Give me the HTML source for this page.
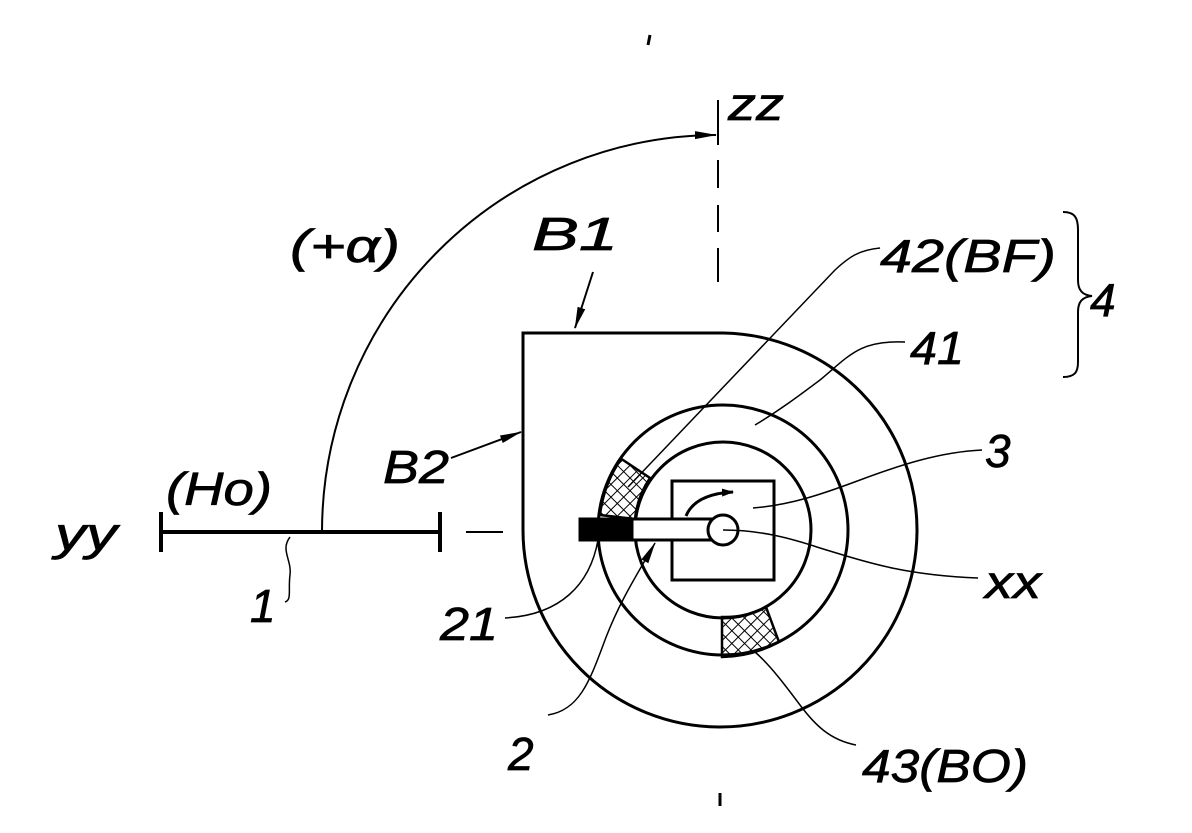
<!DOCTYPE html>
<html><head><meta charset="utf-8"><style>
html,body{margin:0;padding:0;background:#fff}
svg{display:block}
text{font-family:"Liberation Sans",sans-serif;font-style:italic;fill:#000;stroke:#000;stroke-width:0.7}
</style></head><body>
<svg width="1192" height="833" viewBox="0 0 1192 833" xmlns="http://www.w3.org/2000/svg">
<defs>
<pattern id="h" width="9" height="9" patternUnits="userSpaceOnUse" patternTransform="rotate(45)">
<path d="M0 0H9M0 0V9" stroke="#000" stroke-width="2"/>
</pattern>
<marker id="a" markerWidth="12" markerHeight="8" refX="11" refY="4" orient="auto" markerUnits="userSpaceOnUse">
<path d="M0,0 L12,4 L0,8 Z" fill="#000"/></marker>
<marker id="b" markerWidth="22" markerHeight="10" refX="21" refY="5" orient="auto" markerUnits="userSpaceOnUse">
<path d="M0,1 L22,5 L0,9 Z" fill="#000"/></marker>
</defs>
<g fill="none" stroke="#000">
<path d="M161 532H440" stroke-width="4"/>
<path d="M161 512V552M440 512V552" stroke-width="4"/>
<path d="M466 532H503" stroke-width="2"/>
<path d="M718 100V145M718 160V188M718 205V232M718 248V282" stroke-width="2"/>
<path d="M650 35L648 45" stroke-width="3"/>
<path d="M720 793V806" stroke-width="3"/>
<path d="M322 532A396 397 0 0 1 716 135" stroke-width="2" marker-end="url(#b)"/>
<path d="M523 530V333H723A197 197 0 1 1 523 530" stroke-width="3"/>
<circle cx="723" cy="530" r="125" stroke-width="3"/>
<circle cx="723" cy="530" r="88" stroke-width="3"/>
<path d="M620 458 L621 459 A125 125 0 0 0 600 515 L635 519 A88 88 0 0 1 650 478 Z" fill="url(#h)" stroke-width="2.5"/>
<path d="M722 617 L722 657 A125 125 0 0 0 779 642 L766 607 A88 88 0 0 1 722 617 Z" fill="url(#h)" stroke-width="2.5"/>
<rect x="672" y="481" width="102" height="99" stroke-width="3" fill="#fff"/>
<rect x="580" y="519" width="143" height="21" fill="#fff" stroke-width="3"/>
<rect x="580" y="519" width="52" height="21" fill="#000" stroke-width="3"/>
<circle cx="723" cy="530" r="15" fill="#fff" stroke-width="3"/>
<path d="M686 516 Q695 494 733 492" stroke-width="3" marker-end="url(#a)"/>
<path d="M593 272L575 328" stroke-width="2" marker-end="url(#b)"/>
<path d="M451 458L521 432" stroke-width="2" marker-end="url(#b)"/>
<path d="M880 248C860 250 850 256 835 270L628 487" stroke-width="1.5"/>
<path d="M905 342C860 340 850 355 820 380C800 395 780 410 755 425" stroke-width="1.5"/>
<path d="M982 450C940 452 900 465 860 480C820 495 790 505 753 508" stroke-width="1.5"/>
<path d="M978 578C900 575 860 560 820 548C790 538 760 530 723 530" stroke-width="1.5"/>
<path d="M856 745C830 740 815 725 800 705C785 685 770 665 755 652" stroke-width="1.5"/>
<path d="M505 618C560 615 590 585 598 540" stroke-width="1.5"/>
<path d="M548 715C580 710 590 680 605 640C620 600 640 570 655 543" stroke-width="1.5" marker-end="url(#b)"/>
<path d="M290 537C280 550 292 560 290 575C288 590 292 600 285 602" stroke-width="1.5"/>
<path d="M1063 212C1075 212 1078 218 1078 230V280C1078 290 1082 295 1092 296C1082 297 1078 302 1078 312V362C1078 372 1075 377 1063 377" stroke-width="2"/>
</g>
<g font-size="46">
<text x="55" y="550" textLength="62" lengthAdjust="spacingAndGlyphs">yy</text>
<text x="166" y="505" textLength="106" lengthAdjust="spacingAndGlyphs">(Ho)</text>
<text x="250" y="622">1</text>
<text x="290" y="262" textLength="110" lengthAdjust="spacingAndGlyphs">(+α)</text>
<text x="532" y="250" textLength="86" lengthAdjust="spacingAndGlyphs">B1</text>
<text x="383" y="483" textLength="66" lengthAdjust="spacingAndGlyphs">B2</text>
<text x="728" y="120" textLength="56" lengthAdjust="spacingAndGlyphs">zz</text>
<text x="880" y="272" textLength="176" lengthAdjust="spacingAndGlyphs">42(BF)</text>
<text x="1090" y="316">4</text>
<text x="910" y="364" textLength="54" lengthAdjust="spacingAndGlyphs">41</text>
<text x="985" y="467">3</text>
<text x="985" y="598" textLength="56" lengthAdjust="spacingAndGlyphs">xx</text>
<text x="862" y="782" textLength="166" lengthAdjust="spacingAndGlyphs">43(BO)</text>
<text x="440" y="640" textLength="58" lengthAdjust="spacingAndGlyphs">21</text>
<text x="508" y="770">2</text>
</g>
</svg>
</body></html>
